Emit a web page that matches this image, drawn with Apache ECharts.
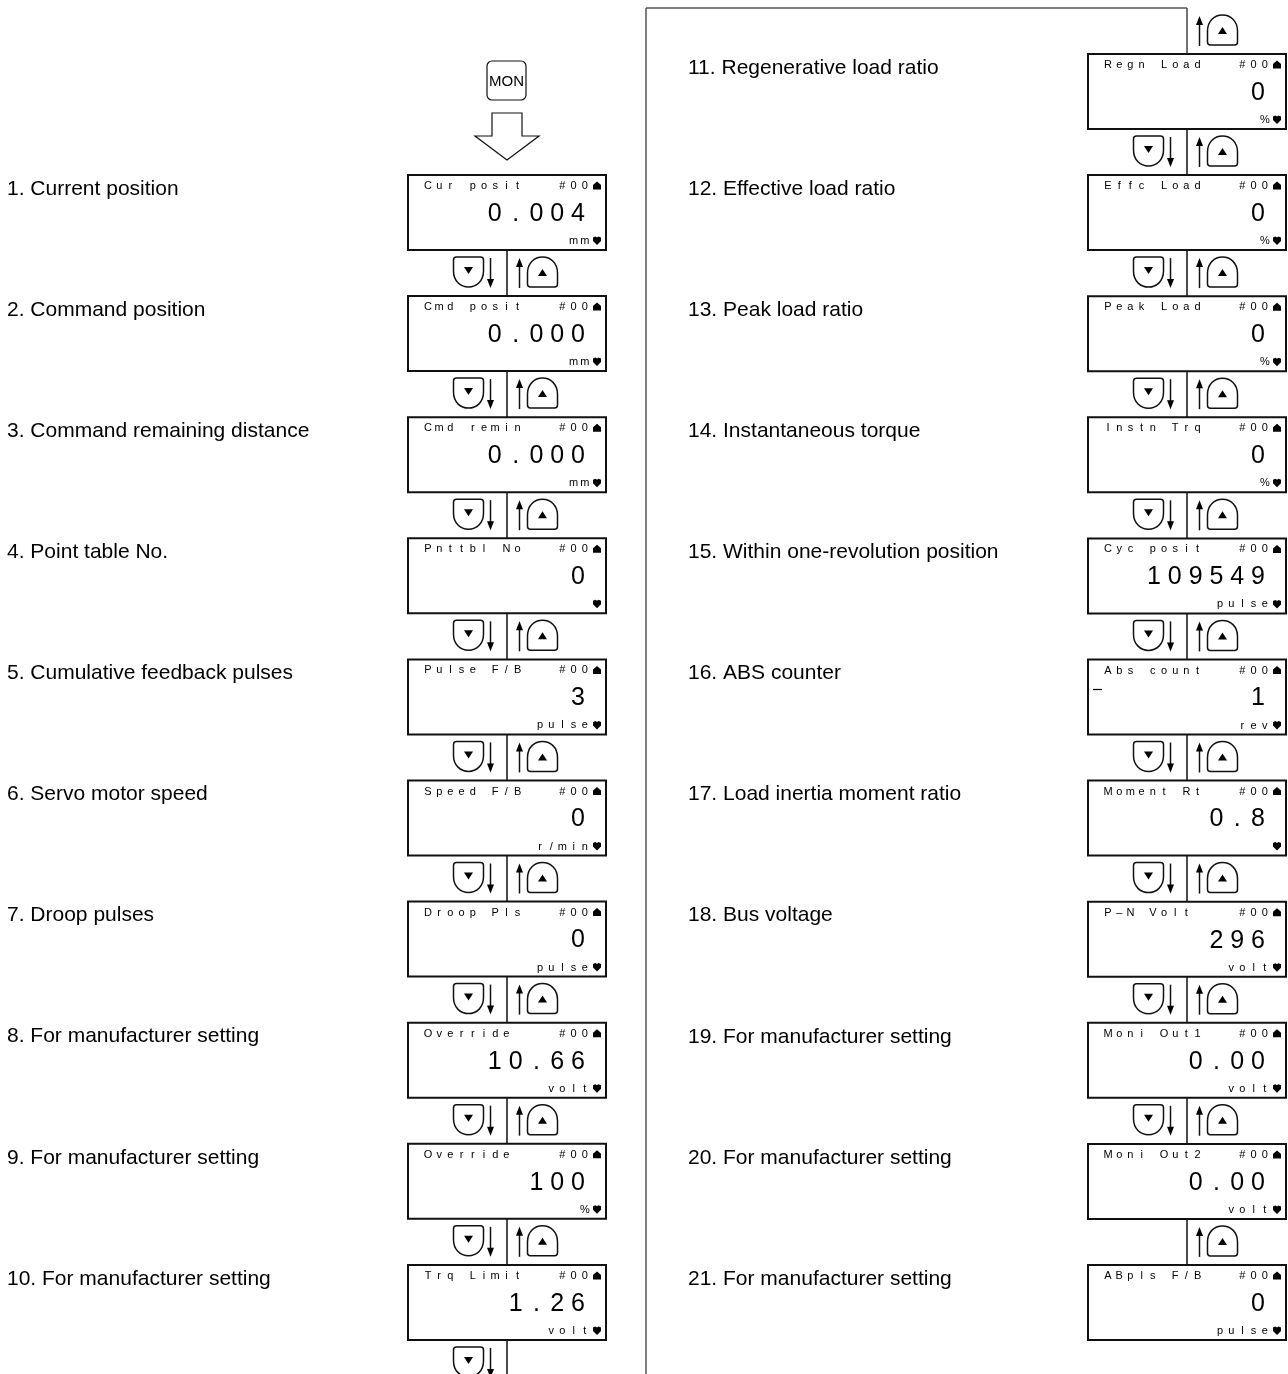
<!DOCTYPE html>
<html>
<head>
<meta charset="utf-8">
<script src="https://cdn.jsdelivr.net/npm/echarts@6/dist/echarts.min.js"></script>
<style>
html,body{margin:0;padding:0;background:#fff;}
#chart{width:1288px;height:1374px;}
</style>
</head>
<body>
<div id="chart"></div>
<script>
// ---- data ----
const labels = [
  "1. Current position", "2. Command position", "3. Command remaining distance",
  "4. Point table No.", "5. Cumulative feedback pulses", "6. Servo motor speed",
  "7. Droop pulses", "8. For manufacturer setting", "9. For manufacturer setting",
  "10. For manufacturer setting", "11. Regenerative load ratio", "12. Effective load ratio",
  "13. Peak load ratio", "14. Instantaneous torque", "15. Within one-revolution position",
  "16. ABS counter", "17. Load inertia moment ratio", "18. Bus voltage",
  "19. For manufacturer setting", "20. For manufacturer setting", "21. For manufacturer setting"
];
const titles = [
  "Cur posit", "Cmd posit", "Cmd remin", "Pnttbl No", "Pulse F/B", "Speed F/B",
  "Droop Pls", "Override", "Override", "Trq Limit", "Regn Load", "Effc Load",
  "Peak Load", "Instn Trq", "Cyc posit", "Abs count", "Moment Rt", "P\u2013N Volt",
  "Moni Out1", "Moni Out2", "ABpls F/B"
];
const readings = [
  "0.004", "0.000", "0.000", "0", "3", "0", "0", "10.66", "100", "1.26",
  "0", "0", "0", "0", "109549", "-1", "0.8", "296", "0.00", "0.00", "0"
];
const units = [
  "mm", "mm", "mm", "", "pulse", "r/min", "pulse", "volt", "%", "volt",
  "%", "%", "%", "%", "pulse", "rev", "", "volt", "volt", "volt", "pulse"
];
const stationNo = "#00";
const startKey = "MON";

// ---- layout ----
const W = 1288, H = 1374;
const PITCH = 121.1, BOX_W = 198, BOX_H = 75;
const COLS = [
  { boxX: 408, firstTop: 175, labelX: 7 },
  { boxX: 1088, firstTop: 54, labelX: 688 }
];
const SMALL_FONT = '11px "Liberation Sans", Arial, sans-serif';
const BIG_FONT = '25px "Liberation Sans", Arial, sans-serif';
const LABEL_FONT = '21px "Liberation Sans", Arial, sans-serif';
const INK = '#111';

function txt(x, y, s, font, align) {
  return { type: 'text', style: { text: s, x: x, y: y, font: font, fill: '#000',
    align: align || 'center', verticalAlign: 'middle', textAlign: align || 'center', textVerticalAlign: 'middle' } };
}
function poly(pts, fill) {
  return { type: 'polygon', shape: { points: pts }, style: { fill: fill || '#000', stroke: null } };
}
function seg(x1, y1, x2, y2, color, w) {
  return { type: 'line', shape: { x1: x1, y1: y1, x2: x2, y2: y2 }, style: { stroke: color || INK, lineWidth: w || 1.5 } };
}

function keyDown(P, x0, y0, ch) {
  const p = (x, y) => P(x0 + x, y0 + y).join(',');
  const d = 'M' + p(3,0) + ' L' + p(27,0) + ' Q' + p(30,0) + ' ' + p(30,3) + ' L' + p(30,14) +
    ' C' + p(30,24) + ' ' + p(23,30) + ' ' + p(15,30) + ' C' + p(7,30) + ' ' + p(0,24) + ' ' + p(0,14) +
    ' L' + p(0,3) + ' Q' + p(0,0) + ' ' + p(3,0) + ' Z';
  ch.push({ type: 'path', shape: { pathData: d }, style: { fill: '#fff', stroke: INK, lineWidth: 1.5 } });
  ch.push(poly([P(x0 + 10.5, y0 + 10), P(x0 + 19.5, y0 + 10), P(x0 + 15, y0 + 17)]));
}
function keyUp(P, x0, y0, ch) {
  const p = (x, y) => P(x0 + x, y0 + y).join(',');
  const d = 'M' + p(0,27) + ' L' + p(0,16) + ' C' + p(0,6) + ' ' + p(7,0) + ' ' + p(15,0) +
    ' C' + p(23,0) + ' ' + p(30,6) + ' ' + p(30,16) + ' L' + p(30,27) + ' Q' + p(30,30) + ' ' + p(27,30) +
    ' L' + p(3,30) + ' Q' + p(0,30) + ' ' + p(0,27) + ' Z';
  ch.push({ type: 'path', shape: { pathData: d }, style: { fill: '#fff', stroke: INK, lineWidth: 1.5 } });
  ch.push(poly([P(x0 + 15, y0 + 12), P(x0 + 19.5, y0 + 19), P(x0 + 10.5, y0 + 19)]));
}
function arrowDown(P, x, y1, y2, ch) {
  const a = P(x, y1), b = P(x, y2 - 8);
  ch.push(seg(a[0], a[1], b[0], b[1], INK, 1.5));
  ch.push(poly([P(x - 3.5, y2 - 9), P(x + 3.5, y2 - 9), P(x, y2)]));
}
function arrowUp(P, x, y1, y2, ch) {
  const a = P(x, y1 + 8), b = P(x, y2);
  ch.push(seg(a[0], a[1], b[0], b[1], INK, 1.5));
  ch.push(poly([P(x, y1), P(x + 3.5, y1 + 9), P(x - 3.5, y1 + 9)]));
}
// key row beneath a screen whose bottom edge is at yB
function keyRow(P, cx, yB, hasDown, hasUp, ch) {
  if (hasDown) {
    keyDown(P, cx - 53.5, yB + 7, ch);
    arrowDown(P, cx - 16.5, yB + 8, yB + 38, ch);
  }
  if (hasUp) {
    arrowUp(P, cx + 12.5, yB + 8, yB + 38, ch);
    keyUp(P, cx + 20.5, yB + 7, ch);
  }
}

function renderScreen(params, api) {
  const i = api.value(0);
  const c = i < 10 ? 0 : 1;
  const row = c === 0 ? i : i - 10;
  const L = COLS[c];
  const bx = L.boxX, by = L.firstTop + row * PITCH;
  const cx = bx + BOX_W / 2;
  const P = (x, y) => api.coord([x, y]);
  const ch = [];

  // description label
  const lp = P(L.labelX, by + 14);
  ch.push(txt(lp[0], lp[1], labels[i], LABEL_FONT, 'left'));

  // connectors
  const yB = by + BOX_H;
  if (i === 10) {
    const t = P(cx, 8), u = P(cx, by);
    ch.push(seg(t[0], t[1], u[0], u[1], '#444', 1.5));
    keyRow(P, cx, by - 46, false, true, ch);
  }
  if (i === 9) {
    const a = P(cx, yB), b = P(cx, H);
    ch.push(seg(a[0], a[1], b[0], b[1], INK, 1.5));
    keyRow(P, cx, yB, true, false, ch);
  } else if (i < 20) {
    const a = P(cx, yB), b = P(cx, yB + 46);
    ch.push(seg(a[0], a[1], b[0], b[1], INK, 1.5));
    keyRow(P, cx, yB, i !== 19, true, ch);
  }

  // screen frame
  const b0 = P(bx, by), b1 = P(bx + BOX_W, by + BOX_H);
  ch.push({ type: 'rect', shape: { x: b0[0], y: b0[1], width: b1[0] - b0[0], height: b1[1] - b0[1] },
    style: { fill: '#fff', stroke: INK, lineWidth: 2 } });

  const cellX = k => bx + 20 + k * 11.2;
  // title row
  const ty = by + 11;
  const t = titles[i];
  for (let k = 0; k < t.length; k++) {
    if (t[k] === ' ') continue;
    const q = P(cellX(k), ty);
    ch.push(txt(q[0], q[1], t[k], SMALL_FONT));
  }
  for (let k = 0; k < stationNo.length; k++) {
    const q = P(cellX(12 + k), ty);
    ch.push(txt(q[0], q[1], stationNo[k], SMALL_FONT));
  }
  const ux = cellX(15) + 1;
  ch.push(poly([P(ux, ty - 4.5), P(ux + 4, ty - 1), P(ux + 4, ty + 3.5), P(ux - 4, ty + 3.5), P(ux - 4, ty - 1)]));

  // reading row
  let r = readings[i];
  const vy = by + 39;
  if (r[0] === '-') {
    const m1 = P(bx + 5, by + 30), m2 = P(bx + 14, by + 30);
    ch.push(seg(m1[0], m1[1], m2[0], m2[1], '#000', 1.2));
    r = r.slice(1);
  }
  for (let k = 0; k < r.length; k++) {
    const x = bx + 170 - (r.length - 1 - k) * 20.8;
    const q = P(x, vy);
    ch.push(txt(q[0], q[1], r[k], BIG_FONT));
  }

  // unit row
  const uy = by + 66;
  const u = units[i];
  for (let k = 0; k < u.length; k++) {
    const q = P(cellX(14 - (u.length - 1 - k)), uy);
    ch.push(txt(q[0], q[1], u[k], SMALL_FONT));
  }
  ch.push(poly([P(ux - 4, uy - 3.5), P(ux - 1.5, uy - 4.5), P(ux, uy - 3.5), P(ux + 1.5, uy - 4.5),
    P(ux + 4, uy - 3.5), P(ux + 4, uy), P(ux, uy + 4), P(ux - 4, uy)]));

  return { type: 'group', children: ch };
}

function renderDecor(params, api) {
  const P = (x, y) => api.coord([x, y]);
  const ch = [];
  const cx = COLS[0].boxX + BOX_W / 2;
  const a = P(646, 8), b = P(646, H), c = P(COLS[1].boxX + BOX_W / 2, 8);
  ch.push(seg(a[0], a[1], b[0], b[1], '#555', 1.5));
  ch.push(seg(a[0], a[1], c[0], c[1], '#555', 1.5));
  const k0 = P(cx - 20, 61), k1 = P(cx + 19, 100);
  ch.push({ type: 'rect', shape: { x: k0[0], y: k0[1], width: k1[0] - k0[0], height: k1[1] - k0[1], r: 5 },
    style: { fill: '#fff', stroke: INK, lineWidth: 1.2 } });
  const m = P(cx - 0.5, 81.5);
  ch.push(txt(m[0], m[1], startKey, '15px "Liberation Sans", Arial, sans-serif'));
  ch.push({ type: 'polygon', shape: { points: [P(cx - 15, 113), P(cx + 15, 113), P(cx + 15, 136), P(cx + 32, 136),
    P(cx, 160), P(cx - 32, 136), P(cx - 15, 136)] }, style: { fill: '#fff', stroke: INK, lineWidth: 1.2 } });
  return { type: 'group', children: ch };
}

const chart = echarts.init(document.getElementById('chart'), null, { renderer: 'canvas' });
chart.setOption({
  backgroundColor: '#fff',
  animation: false,
  grid: { left: 0, right: 0, top: 0, bottom: 0 },
  xAxis: { type: 'value', min: 0, max: W, show: false },
  yAxis: { type: 'value', min: 0, max: H, inverse: true, show: false },
  series: [
    { type: 'custom', clip: false, renderItem: renderDecor, data: [[0, 0]] },
    { type: 'custom', clip: false, renderItem: renderScreen, data: labels.map((_, i) => [i, i]) }
  ]
});
</script>
</body>
</html>
